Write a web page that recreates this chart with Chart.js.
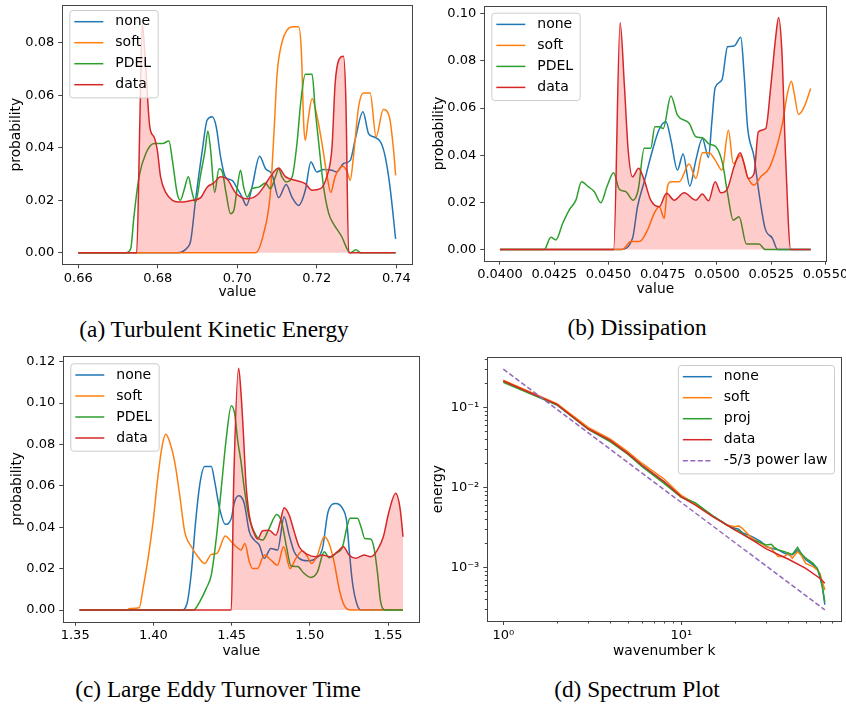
<!DOCTYPE html>
<html>
<head>
<meta charset="utf-8">
<script src="https://cdn.jsdelivr.net/npm/chart.js@4.4.1/dist/chart.umd.min.js"></script>
<style>
  body { margin: 0; background: #fff; }
  #page { position: relative; width: 846px; height: 709px; overflow: hidden; background: #fff; }
  canvas { position: absolute; }
  .cap { position: absolute; font-family: "Liberation Serif", "Times New Roman", serif; font-size: 23.3px;
         line-height: 1; color: #000; white-space: nowrap; transform: translateX(-50%); }
</style>
</head>
<body>
<div id="page">
  <canvas id="tke" width="423" height="305" style="left:0;top:0"></canvas>
  <canvas id="dis" width="423" height="305" style="left:423px;top:0"></canvas>
  <canvas id="let" width="423" height="320" style="left:0;top:350px"></canvas>
  <canvas id="spec" width="423" height="320" style="left:423px;top:350px"></canvas>
  <div class="cap" style="left:214px;top:318px">(a) Turbulent Kinetic Energy</div>
  <div class="cap" style="left:637px;top:316px">(b) Dissipation</div>
  <div class="cap" style="left:218px;top:678px">(c) Large Eddy Turnover Time</div>
  <div class="cap" style="left:637px;top:678px">(d) Spectrum Plot</div>
</div>
<script>
// ---- (a) turbulent kinetic energy : [value, probability]
const tkeTicksX = [0.66, 0.68, 0.70, 0.72, 0.74];
const tkeTicksY = [0, 0.02, 0.04, 0.06, 0.08];
const tkeNone = [[0.6600,0],[0.6849,0],[0.6874,0.0019],[0.6883,0.0047],[0.6895,0.020],[0.6912,0.039],[0.6924,0.0505],[0.6937,0.0518],[0.6947,0.048],[0.6958,0.0365],[0.6970,0.0289],[0.6987,0.0276],[0.7000,0.0244],[0.7012,0.0212],[0.7023,0.018],[0.7037,0.025],[0.7056,0.0368],[0.7071,0.032],[0.7087,0.030],[0.7104,0.021],[0.7123,0.026],[0.7138,0.021],[0.7154,0.018],[0.7171,0.0238],[0.7185,0.0346],[0.7200,0.0308],[0.7217,0.0317],[0.7238,0.0314],[0.7250,0.0308],[0.7267,0.034],[0.7284,0.0352],[0.7296,0.0429],[0.7316,0.0537],[0.7330,0.0454],[0.7344,0.0441],[0.7361,0.042],[0.7372,0.0365],[0.7384,0.025],[0.7398,0.0053]];
const tkeSoft = [[0.6600,0],[0.7046,0],[0.7066,0.0072],[0.7083,0.0225],[0.7093,0.048],[0.7100,0.068],[0.7112,0.080],[0.7125,0.0848],[0.7140,0.0861],[0.7154,0.0861],[0.7161,0.077],[0.7167,0.049],[0.7171,0.0429],[0.7178,0.0505],[0.7188,0.0588],[0.7200,0.0524],[0.7213,0.0416],[0.7225,0.030],[0.7235,0.023],[0.7246,0.029],[0.7265,0.033],[0.7276,0.031],[0.7284,0.0276],[0.7292,0.0365],[0.7305,0.0556],[0.7317,0.0609],[0.7334,0.0609],[0.7349,0.0441],[0.7367,0.0546],[0.7382,0.052],[0.7393,0.039],[0.7398,0.0295]];
const tkePdel = [[0.6600,0],[0.6720,0],[0.6732,0.0015],[0.6740,0.0136],[0.6753,0.029],[0.6770,0.0378],[0.6791,0.0416],[0.6812,0.0416],[0.6828,0.0426],[0.6837,0.035],[0.6849,0.0225],[0.6857,0.020],[0.6866,0.0238],[0.6877,0.029],[0.6885,0.0238],[0.6895,0.0193],[0.6908,0.030],[0.6919,0.039],[0.6926,0.0464],[0.6933,0.039],[0.6943,0.023],[0.6954,0.032],[0.6962,0.031],[0.6972,0.0225],[0.6983,0.0149],[0.6991,0.016],[0.7000,0.025],[0.7008,0.0314],[0.7016,0.025],[0.7025,0.0212],[0.7037,0.0244],[0.7054,0.025],[0.7071,0.0266],[0.7083,0.0244],[0.7096,0.029],[0.7104,0.032],[0.7112,0.029],[0.7123,0.027],[0.7138,0.029],[0.7150,0.0416],[0.7160,0.058],[0.7171,0.068],[0.7188,0.068],[0.7196,0.0543],[0.7204,0.0429],[0.7217,0.025],[0.7230,0.0149],[0.7242,0.011],[0.7263,0.006],[0.7276,0.0015],[0.7284,0],[0.7298,0.0011],[0.7311,0],[0.7398,0]];
const tkeData = [[0.6600,0],[0.6747,0],[0.6755,0.050],[0.6761,0.087],[0.6768,0.075],[0.6780,0.048],[0.6791,0.044],[0.6799,0.039],[0.6807,0.029],[0.6820,0.023],[0.6837,0.020],[0.6857,0.0193],[0.6887,0.020],[0.6908,0.021],[0.6924,0.025],[0.6941,0.0266],[0.6958,0.029],[0.6975,0.028],[0.6995,0.023],[0.7025,0.0206],[0.7050,0.022],[0.7066,0.025],[0.7083,0.029],[0.7104,0.0323],[0.7121,0.029],[0.7146,0.0276],[0.7171,0.0263],[0.7188,0.0238],[0.7209,0.0244],[0.7225,0.029],[0.7238,0.040],[0.7246,0.0645],[0.7255,0.0734],[0.7267,0.0749],[0.7273,0.058],[0.7280,0],[0.7398,0]];

// ---- (b) dissipation
const disTicksX = [0.0400, 0.0425, 0.0450, 0.0475, 0.0500, 0.0525, 0.0550];
const disTicksY = [0, 0.02, 0.04, 0.06, 0.08, 0.10];
const disNone = [[0.0400,0],[0.04557,0],[0.04611,0.0047],[0.04634,0.0181],[0.04665,0.0287],[0.04703,0.0421],[0.04734,0.051],[0.04765,0.0542],[0.04788,0.0464],[0.04818,0.0337],[0.04844,0.0405],[0.04875,0.0269],[0.04903,0.0379],[0.04933,0.0471],[0.04961,0.039],[0.04976,0.0535],[0.04992,0.0687],[0.05023,0.0719],[0.05049,0.086],[0.05079,0.0863],[0.0511,0.090],[0.05125,0.0747],[0.05141,0.052],[0.05171,0.0393],[0.05194,0.0238],[0.05222,0.0089],[0.05256,0.0047],[0.05279,0],[0.05432,0]];
const disSoft = [[0.0400,0],[0.04565,0],[0.04603,0.0033],[0.04642,0.0033],[0.0468,0.0082],[0.04711,0.0153],[0.04734,0.0181],[0.04757,0.0132],[0.04772,0.0266],[0.04788,0.0287],[0.04826,0.0287],[0.04872,0.0362],[0.04903,0.0301],[0.04933,0.041],[0.04964,0.041],[0.04992,0.0379],[0.05023,0.0337],[0.05053,0.0506],[0.05075,0.0365],[0.0511,0.040],[0.05141,0.0308],[0.05171,0.0273],[0.05202,0.0308],[0.0524,0.0344],[0.05271,0.0421],[0.05302,0.0535],[0.05325,0.0662],[0.05343,0.0714],[0.05356,0.0662],[0.05376,0.0573],[0.05402,0.0605],[0.05432,0.0683]];
const disPdel = [[0.0400,0],[0.04204,0],[0.04235,0.0051],[0.04258,0.004],[0.04289,0.011],[0.04319,0.0167],[0.0435,0.0209],[0.04376,0.0287],[0.04407,0.0266],[0.04435,0.0245],[0.04465,0.0198],[0.04493,0.0266],[0.04524,0.0325],[0.0455,0.0255],[0.0458,0.0245],[0.04614,0.0209],[0.04637,0.0252],[0.04665,0.0429],[0.04695,0.0429],[0.04714,0.052],[0.04734,0.052],[0.04752,0.0513],[0.04788,0.0651],[0.04818,0.057],[0.04872,0.0535],[0.04903,0.0478],[0.04933,0.0474],[0.04964,0.0447],[0.04995,0.0436],[0.05026,0.0365],[0.05049,0.0238],[0.05075,0.0124],[0.05102,0.0139],[0.05136,0.0023],[0.05194,0.0023],[0.05222,0],[0.05432,0]];
const disData = [[0.0400,0],[0.04524,0],[0.04554,0.0962],[0.04573,0.0704],[0.04591,0.0421],[0.04611,0.0308],[0.04639,0.0344],[0.04665,0.0294],[0.04695,0.0209],[0.04734,0.0181],[0.04768,0.0238],[0.04803,0.0209],[0.04849,0.0240],[0.04903,0.0209],[0.04933,0.0235],[0.04961,0.0206],[0.04992,0.0287],[0.05018,0.024],[0.05049,0.0259],[0.05079,0.0351],[0.05107,0.0410],[0.05125,0.0365],[0.05145,0.0301],[0.05171,0.0322],[0.05191,0.0499],[0.05225,0.0513],[0.05248,0.069],[0.05271,0.0902],[0.05284,0.0984],[0.05299,0.0846],[0.05317,0.0379],[0.0534,0],[0.05432,0]];

// ---- (c) large eddy turnover time
const letTicksX = [1.35, 1.40, 1.45, 1.50, 1.55];
const letTicksY = [0, 0.02, 0.04, 0.06, 0.08, 0.10, 0.12];
const letNone = [[1.3528,0],[1.4179,0],[1.4215,0.0032],[1.4243,0.0185],[1.4270,0.0427],[1.4296,0.0604],[1.4328,0.0693],[1.4370,0.0693],[1.4392,0.062],[1.4423,0.0491],[1.4460,0.0414],[1.4498,0.0443],[1.4519,0.0523],[1.4545,0.0552],[1.4560,0.0548],[1.4581,0.0515],[1.4613,0.0379],[1.4645,0.0338],[1.4677,0.0314],[1.4709,0.025],[1.4751,0.0298],[1.4794,0.029],[1.4836,0.0451],[1.4868,0.0362],[1.4900,0.0282],[1.4932,0.025],[1.4985,0.0238],[1.5038,0.025],[1.5081,0.0298],[1.5117,0.0475],[1.5166,0.0515],[1.5209,0.0491],[1.5236,0.0427],[1.5251,0.0298],[1.5272,0.0137],[1.5300,0.0032],[1.5326,0],[1.5596,0]];
const letSoft = [[1.3528,0],[1.3828,0],[1.3849,0.0008],[1.3909,0.0011],[1.3934,0.0105],[1.3966,0.025],[1.3998,0.0427],[1.4030,0.0652],[1.4057,0.0797],[1.4079,0.0849],[1.4104,0.0813],[1.4136,0.0717],[1.4168,0.0556],[1.4200,0.0379],[1.4243,0.0306],[1.4285,0.0258],[1.4328,0.0225],[1.4370,0.0269],[1.4406,0.0274],[1.4460,0.0358],[1.4498,0.033],[1.4530,0.0306],[1.4560,0.029],[1.4585,0.0322],[1.4613,0.0234],[1.4634,0.0201],[1.4666,0.0201],[1.4709,0.0266],[1.4751,0.0242],[1.4794,0.0217],[1.4832,0.0306],[1.4874,0.0201],[1.4911,0.025],[1.4953,0.0285],[1.4985,0.0258],[1.5011,0.0225],[1.5049,0.0266],[1.5092,0.0354],[1.5123,0.0322],[1.5155,0.0234],[1.5187,0.0105],[1.5219,0.0024],[1.5262,0],[1.5596,0]];
const letPdel = [[1.3528,0],[1.4257,0],[1.4296,0.004],[1.4338,0.0105],[1.4370,0.0169],[1.4402,0.0346],[1.4434,0.0588],[1.4466,0.083],[1.4498,0.0987],[1.4519,0.095],[1.4540,0.0813],[1.4560,0.0717],[1.4581,0.0588],[1.4613,0.0443],[1.4655,0.0362],[1.4698,0.0338],[1.4740,0.0395],[1.4789,0.0462],[1.4819,0.0427],[1.4853,0.0298],[1.4879,0.0214],[1.4921,0.021],[1.4964,0.0177],[1.5006,0.0158],[1.5049,0.0185],[1.5092,0.0282],[1.5123,0.0253],[1.5166,0.0274],[1.5209,0.0306],[1.5236,0.0395],[1.5257,0.0443],[1.5304,0.0443],[1.5330,0.0395],[1.5351,0.0346],[1.5389,0.0343],[1.5411,0.0298],[1.5432,0.0185],[1.5453,0.004],[1.5485,0],[1.5596,0]];
const letData = [[1.3528,0],[1.4498,0],[1.4513,0.060],[1.4545,0.1168],[1.4560,0.105],[1.4577,0.083],[1.4591,0.062],[1.4613,0.0459],[1.4640,0.0379],[1.4666,0.0343],[1.4698,0.0383],[1.4740,0.0386],[1.4783,0.0362],[1.4811,0.0427],[1.4836,0.0494],[1.4868,0.0459],[1.4900,0.0379],[1.4932,0.0306],[1.4985,0.0269],[1.5038,0.0258],[1.5081,0.0266],[1.5130,0.0258],[1.5177,0.0282],[1.5215,0.0306],[1.5251,0.0266],[1.5294,0.025],[1.5347,0.0266],[1.5389,0.0258],[1.5432,0.029],[1.5470,0.0354],[1.5506,0.0475],[1.5549,0.0564],[1.5577,0.0491],[1.5596,0.0354]];

// ---- (d) spectrum
const specK = [1,2,3,4,5,6,8,10,12,15,18,20,21,22,25,28,30,32,33,35,38,40,42,45,47,50,55,58,60,62,64];
const specNone = [0.212,0.109,0.054,0.0385,0.0267,0.0188,0.0117,0.0077,0.0063,0.0044,0.00338,0.00307,0.00300,0.00271,0.00242,0.00209,0.00181,0.00173,0.00170,0.00165,0.00150,0.00143,0.00143,0.00164,0.00150,0.00124,0.00107,0.00097,0.00076,0.00057,0.00034];
const specSoft = [0.218,0.111,0.056,0.040,0.028,0.020,0.0127,0.0079,0.0062,0.0044,0.00338,0.00322,0.00329,0.00307,0.00230,0.00200,0.00181,0.00173,0.00157,0.00136,0.00136,0.00150,0.00130,0.00157,0.00143,0.00112,0.00102,0.00093,0.00084,0.00066,0.00052];
const specProj = [0.205,0.107,0.053,0.037,0.026,0.0183,0.0112,0.0075,0.0064,0.0044,0.00338,0.00293,0.00290,0.00266,0.00220,0.00203,0.00190,0.00194,0.00180,0.00165,0.00157,0.00150,0.00145,0.00178,0.00150,0.00130,0.00112,0.00097,0.00080,0.00057,0.00037];
const specDataK = [1,2,3,4,5,6,8,10,12,15,18,20,25,30,40,50,60,64];
const specData = [0.213,0.109,0.0536,0.0383,0.0266,0.019,0.0118,0.0076,0.0060,0.0043,0.0034,0.00293,0.0022,0.0017,0.00126,0.00097,0.00073,0.00063];
const powerK = [1, 64];
const powerLaw = [0.3, 0.000293];
const specTicksX = [1, 10];
const specTickLabelsX = ['10⁰', '10¹'];
const specTicksY = [0.001, 0.01, 0.1];
const specTickLabelsY = ['10⁻³', '10⁻²', '10⁻¹'];

const BLUE = '#1f77b4', ORANGE = '#ff7f0e', GREEN = '#2ca02c', RED = '#d62728', PURPLE = '#9467bd';

Chart.defaults.font.family = 'DejaVu Sans';
Chart.defaults.color = '#000';

// matplotlib look: full frame, minor ticks, boxed legend
const mplPlugin = {
  id: 'mpl',
  afterDraw(chart, args, opts) {
    const ctx = chart.ctx, a = chart.chartArea;
    ctx.save();
    ctx.strokeStyle = '#444';
    ctx.lineWidth = 1;
    (opts.minorX || []).forEach(v => {
      const s = chart.scales.x;
      if (v < s.min || v > s.max) return;
      const x = Math.round(s.getPixelForValue(v)) + 0.5;
      ctx.beginPath(); ctx.moveTo(x, a.bottom); ctx.lineTo(x, a.bottom + 2.5); ctx.stroke();
    });
    (opts.minorY || []).forEach(v => {
      const s = chart.scales.y;
      if (v < s.min || v > s.max) return;
      const y = Math.round(s.getPixelForValue(v)) + 0.5;
      ctx.beginPath(); ctx.moveTo(a.left, y); ctx.lineTo(a.left - 2.5, y); ctx.stroke();
    });
    ctx.strokeRect(Math.round(a.left) + 0.5, Math.round(a.top) + 0.5,
                   Math.round(a.right - a.left), Math.round(a.bottom - a.top));

    // legend
    const items = chart.data.datasets;
    ctx.font = '14px "DejaVu Sans"';
    const textW = Math.max(...items.map(d => ctx.measureText(d.label).width));
    const w = 46 + textW + 6.5;
    const h = 21 * (items.length - 1) + 24.4;
    const x0 = opts.legendSide === 'right' ? a.right - 7.3 - w : a.left + 7;
    const y0 = a.top + opts.legendTop;
    ctx.beginPath();
    if (ctx.roundRect) ctx.roundRect(x0 + 0.5, y0 + 0.5, w, h, 3); else ctx.rect(x0 + 0.5, y0 + 0.5, w, h);
    ctx.fillStyle = 'rgba(255,255,255,0.8)';
    ctx.fill();
    ctx.strokeStyle = '#cccccc';
    ctx.stroke();
    items.forEach((d, i) => {
      const yc = y0 + 11.7 + 21 * i;
      ctx.strokeStyle = d.borderColor;
      ctx.lineWidth = 1.5;
      ctx.setLineDash(d.borderDash || []);
      ctx.beginPath(); ctx.moveTo(x0 + 5, yc); ctx.lineTo(x0 + 34, yc); ctx.stroke();
      ctx.setLineDash([]);
      ctx.fillStyle = '#000';
      ctx.textBaseline = 'middle';
      ctx.textAlign = 'left';
      ctx.fillText(d.label, x0 + 46, yc);
    });
    ctx.restore();
  }
};

function axis(o) {
  return {
    type: o.type || 'linear',
    min: o.min, max: o.max, bounds: 'data',
    afterBuildTicks: s => { s.ticks = o.ticks.map(v => ({ value: v })); },
    afterFit: s => {
      if (o.height !== undefined) { s.height = o.height; s.paddingLeft = 0; s.paddingRight = 0; }
      if (o.width !== undefined) { s.width = o.width; s.paddingTop = 0; s.paddingBottom = 0; }
    },
    ticks: { autoSkip: false, maxRotation: 0, padding: o.tickPad, color: '#000', font: { size: 13 }, callback: o.fmt },
    grid: { display: true, drawOnChartArea: false, drawTicks: true, tickLength: 4, color: '#444', tickColor: '#444' },
    border: { display: false },
    title: { display: true, text: o.title, color: '#000', font: { size: 13.8 }, padding: o.titlePad }
  };
}

function pairs(arr) { return arr.map(p => ({ x: p[0], y: p[1] })); }
function zip(xs, ys) { return xs.map((x, i) => ({ x: x, y: ys[i] })); }

function kdeSet(label, color, arr, order, fill) {
  return {
    label: label, data: pairs(arr), borderColor: color, borderWidth: 1.5, order: order,
    fill: fill ? 'origin' : false, backgroundColor: fill ? 'rgba(255,0,0,0.2)' : color,
    cubicInterpolationMode: 'monotone', pointRadius: 0
  };
}

function makeChart(id, datasets, c) {
  return new Chart(document.getElementById(id), {
    type: 'line',
    data: { datasets: datasets },
    options: {
      responsive: false, animation: false,
      layout: { padding: { left: 0, top: c.padTop, right: c.padRight, bottom: 0 } },
      plugins: { legend: { display: false }, tooltip: { enabled: false },
                 mpl: { legendSide: c.legendSide || 'left', legendTop: c.legendTop, minorX: c.minorX, minorY: c.minorY } },
      elements: { point: { radius: 0 } },
      scales: { x: axis(c.x), y: axis(c.y) }
    },
    plugins: [mplPlugin]
  });
}

function kdeSets(none, soft, pdel, data) {
  return [
    kdeSet('none', BLUE, none, 3, false),
    kdeSet('soft', ORANGE, soft, 2, false),
    kdeSet('PDEL', GREEN, pdel, 1, false),
    kdeSet('data', RED, data, 0, true)
  ];
}

const fix2 = v => v.toFixed(2);
const fix4 = v => v.toFixed(4);

makeChart('tke', kdeSets(tkeNone, tkeSoft, tkePdel, tkeData), {
  padTop: 5, padRight: 10.7, legendTop: 5,
  x: { min: 0.656, max: 0.744, ticks: tkeTicksX, fmt: fix2, height: 40.7, tickPad: 2.5, title: 'value', titlePad: { top: 0, bottom: 4.2 } },
  y: { min: -0.0044, max: 0.0944, ticks: tkeTicksY, fmt: fix2, width: 62.3, tickPad: 4, title: 'probability', titlePad: { top: 8.6, bottom: 0 } }
});

makeChart('dis', kdeSets(disNone, disSoft, disPdel, disData), {
  padTop: 6, padRight: 19.7, legendTop: 6.7,
  x: { min: 0.03928, max: 0.05504, ticks: disTicksX, fmt: fix4, height: 44.3, tickPad: 2.5, title: 'value', titlePad: { top: 0, bottom: 7.6 } },
  y: { min: -0.0048, max: 0.1033, ticks: disTicksY, fmt: fix2, width: 61.3, tickPad: 4, title: 'probability', titlePad: { top: 8.6, bottom: 0 } }
});

makeChart('let', kdeSets(letNone, letSoft, letPdel, letData), {
  padTop: 6, padRight: 3.7, legendTop: 7.3,
  x: { min: 1.3424, max: 1.57, ticks: letTicksX, fmt: fix2, height: 48.3, tickPad: 2.5, title: 'value', titlePad: { top: 0, bottom: 10.2 } },
  y: { min: -0.0056, max: 0.1227, ticks: letTicksY, fmt: fix2, width: 63.3, tickPad: 4, title: 'probability', titlePad: { top: 9.3, bottom: 0 } }
});

const minorX = [], minorY = [];
[1, 10].forEach(d => { for (let m = 2; m <= 9; m++) minorX.push(m * d); });
[1e-4, 1e-3, 1e-2, 1e-1].forEach(d => { for (let m = 2; m <= 9; m++) minorY.push(m * d); });

function lineSet(label, color, ks, vals, order, dash) {
  return { label: label, data: zip(ks, vals), borderColor: color, backgroundColor: color, borderWidth: 1.5,
           borderDash: dash || [], order: order, fill: false, tension: 0, pointRadius: 0 };
}

makeChart('spec', [
  lineSet('none', BLUE, specK, specNone, 4),
  lineSet('soft', ORANGE, specK, specSoft, 3),
  lineSet('proj', GREEN, specK, specProj, 2),
  lineSet('data', RED, specDataK, specData, 1),
  lineSet('-5/3 power law', PURPLE, powerK, powerLaw, 0, [5, 2.5])
], {
  padTop: 7.3, padRight: 4.7, legendTop: 7.7, legendSide: 'right', minorX: minorX, minorY: minorY,
  x: { type: 'logarithmic', min: 0.813, max: 79.2, ticks: specTicksX, fmt: (v, i) => specTickLabelsX[i], height: 49, tickPad: 2.5, title: 'wavenumber k', titlePad: { top: 0, bottom: 10.2 } },
  y: { type: 'logarithmic', min: 0.000213, max: 0.422, ticks: specTicksY, fmt: (v, i) => specTickLabelsY[i], width: 64.3, tickPad: 4, title: 'energy', titlePad: { top: 7.2, bottom: 0 } }
});
</script>
</body>
</html>
